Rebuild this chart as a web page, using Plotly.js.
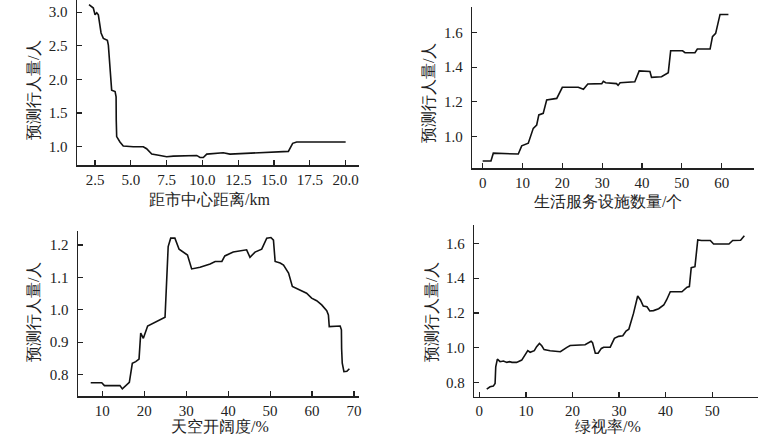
<!DOCTYPE html>
<html>
<head>
<meta charset="utf-8">
<script src="https://cdn.plot.ly/plotly-3.0.1.min.js"></script>
<style>html,body{margin:0;padding:0;background:#fff;}#chart{width:770px;height:440px;}</style>
</head>
<body>
<div id="chart"></div>
<script>
// Panel 1: distance to city centre
var distX = [2.08, 2.38, 2.5, 2.62, 2.73, 2.92, 3.08, 3.36, 3.43, 3.66, 3.9, 3.97, 3.98, 4.01, 4.24, 4.47, 5.17, 5.87, 6.1, 6.46, 7.04, 7.5, 7.97, 9.6, 9.83, 10.06, 10.3, 11.45, 11.92, 12.85, 16.0, 16.3, 16.58, 20.0];
var distY = [3.11, 3.06, 2.96, 2.99, 2.96, 2.69, 2.61, 2.58, 2.51, 1.84, 1.82, 1.74, 1.4, 1.15, 1.07, 1.01, 1.0, 1.0, 0.97, 0.89, 0.87, 0.85, 0.86, 0.87, 0.84, 0.84, 0.89, 0.91, 0.89, 0.9, 0.93, 1.05, 1.07, 1.07];

// Panel 2: number of service facilities
var facX = [0, 2.08, 2.67, 8.94, 9.8, 11.45, 12.7, 13.56, 14.1, 15.2, 16.07, 18.6, 20, 24, 25.3, 26.4, 29.9, 30.3, 30.9, 33.6, 34, 34.5, 38.2, 39.3, 42, 42.4, 44.9, 46.2, 46.6, 47.2, 50.2, 50.8, 53.3, 53.9, 57.1, 57.7, 58.5, 59.6, 61.7];
var facY = [0.86, 0.86, 0.905, 0.9, 0.947, 0.962, 1.048, 1.067, 1.125, 1.134, 1.211, 1.22, 1.284, 1.284, 1.272, 1.303, 1.305, 1.318, 1.31, 1.305, 1.295, 1.31, 1.316, 1.378, 1.375, 1.341, 1.345, 1.364, 1.368, 1.494, 1.494, 1.483, 1.483, 1.504, 1.504, 1.575, 1.594, 1.703, 1.703];

// Panel 3: sky openness
var skyX = [7.23, 9.86, 10.5, 14.2, 14.77, 15.4, 16.44, 17.15, 17.96, 18.75, 19.15, 19.78, 20.6, 20.8, 24.95, 25.7, 26.3, 27.3, 28.3, 29.7, 30.3, 31.3, 33.3, 35.7, 36.9, 38.5, 39.2, 41.2, 44.4, 45.2, 46.4, 48, 49.2, 50.2, 50.8, 51.2, 52.4, 53.2, 54.4, 55.3, 57.1, 58.7, 59.9, 61.1, 62.3, 63.5, 63.9, 64.1, 66.7, 67.0, 67.05, 67.2, 67.6, 68.3, 68.9];
var skyY = [0.775, 0.775, 0.766, 0.766, 0.756, 0.763, 0.776, 0.835, 0.84, 0.848, 0.928, 0.912, 0.938, 0.95, 0.977, 1.195, 1.221, 1.221, 1.187, 1.176, 1.169, 1.126, 1.131, 1.141, 1.149, 1.149, 1.166, 1.178, 1.185, 1.162, 1.178, 1.187, 1.221, 1.223, 1.215, 1.149, 1.144, 1.138, 1.113, 1.072, 1.061, 1.051, 1.036, 1.028, 1.015, 0.997, 0.984, 0.948, 0.95, 0.938, 0.88, 0.835, 0.809, 0.81, 0.818];

// Panel 4: green view index
var greenX = [1.59, 2.3, 3.0, 3.38, 3.52, 3.87, 4.45, 5.17, 5.9, 6.5, 7.0, 8.0, 9.1, 9.83, 10.4, 10.9, 11.8, 12.3, 12.9, 13.4, 13.9, 15.2, 17.4, 18.8, 19.5, 22.7, 24.0, 24.3, 24.9, 25.5, 26.2, 26.7, 28.1, 29.0, 29.9, 30.8, 31.5, 32.1, 33.1, 34.0, 34.6, 35.2, 36.0, 36.6, 37.4, 38.5, 39.6, 40.2, 41.0, 43.5, 44.6, 45.1, 45.5, 46.3, 46.9, 47.7, 49.6, 50.3, 53.6, 54.4, 56.1, 56.9];
var greenY = [0.764, 0.777, 0.781, 0.796, 0.892, 0.936, 0.921, 0.925, 0.917, 0.921, 0.917, 0.917, 0.93, 0.959, 0.984, 0.975, 0.984, 1.007, 1.026, 1.012, 0.99, 0.984, 0.978, 1.003, 1.014, 1.018, 1.038, 1.03, 0.969, 0.969, 0.997, 1.004, 1.004, 1.055, 1.066, 1.07, 1.097, 1.107, 1.198, 1.298, 1.275, 1.24, 1.236, 1.212, 1.214, 1.225, 1.246, 1.275, 1.322, 1.322, 1.348, 1.352, 1.46, 1.466, 1.619, 1.616, 1.616, 1.596, 1.596, 1.616, 1.618, 1.644];

var xTitles = ["距市中心距离/km", "生活服务设施数量/个", "天空开阔度/%", "绿视率/%"];
var yTitle = "预测行人量/人";

var serif = "Liberation Serif";
var lineStyle = {color: "#111", width: 1.6};

var traces = [
  {x: distX, y: distY, xaxis: "x", yaxis: "y"},
  {x: facX, y: facY, xaxis: "x2", yaxis: "y2"},
  {x: skyX, y: skyY, xaxis: "x3", yaxis: "y3"},
  {x: greenX, y: greenY, xaxis: "x4", yaxis: "y4"}
].map(function(t){ t.type = "scatter"; t.mode = "lines"; t.line = lineStyle; t.hoverinfo = "skip"; return t; });

function ax(extra) {
  var base = {
    showline: true, linecolor: "#222", linewidth: 1.5, mirror: false,
    showgrid: false, zeroline: false,
    ticks: "inside", ticklen: 5, tickwidth: 1.2, tickcolor: "#222",
    tickfont: {family: serif, size: 15, color: "#222"},
    fixedrange: true
  };
  for (var k in extra) base[k] = extra[k];
  return base;
}

var layout = {
  width: 770, height: 440,
  margin: {l: 0, r: 0, t: 0, b: 0},
  paper_bgcolor: "#fff", plot_bgcolor: "#fff",
  showlegend: false,
  font: {family: serif},
  xaxis: ax({domain: [0.1, 0.4662], range: [1.24, 20.93], dtick: 2.5, tick0: 0, tickformat: ".1f", anchor: "y"}),
  yaxis: ax({domain: [0.625, 1.0], range: [0.728, 3.18], dtick: 0.5, tick0: 0, tickformat: ".1f", anchor: "x", ticklabelstandoff: 5}),
  xaxis2: ax({domain: [0.6134, 0.9796], range: [-2.6, 68.2], dtick: 10, tick0: 0, anchor: "y2"}),
  yaxis2: ax({domain: [0.6175, 0.9834], range: [0.818, 1.744], dtick: 0.2, tick0: 0, tickformat: ".1f", anchor: "x2", ticklabelstandoff: 5}),
  xaxis3: ax({domain: [0.1013, 0.4666], range: [4.2, 71.26], dtick: 10, tick0: 0, anchor: "y3"}),
  yaxis3: ax({domain: [0.1, 0.4757], range: [0.734, 1.244], dtick: 0.1, tick0: 0, tickformat: ".1f", anchor: "x3", ticklabelstandoff: 5}),
  xaxis4: ax({domain: [0.616, 0.9848], range: [-1.08, 59.9], dtick: 10, tick0: 0, anchor: "y4"}),
  yaxis4: ax({domain: [0.0984, 0.4886], range: [0.72, 1.705], dtick: 0.2, tick0: 0, tickformat: ".1f", anchor: "x4", ticklabelstandoff: 5}),
  annotations: []
};

var xTitlePos = [[210, 199], [608, 201], [220, 426], [608, 426]];
var yTitlePos = [[33, 90], [428, 93], [33, 312], [431, 312]];
var titleFont = {family: serif, size: 16, color: "#222"};
for (var i = 0; i < 4; i++) {
  layout.annotations.push({
    text: xTitles[i], xref: "paper", yref: "paper",
    x: xTitlePos[i][0] / 770, y: 1 - xTitlePos[i][1] / 440,
    xanchor: "center", yanchor: "middle", showarrow: false, font: titleFont
  });
  layout.annotations.push({
    text: yTitle, xref: "paper", yref: "paper",
    x: yTitlePos[i][0] / 770, y: 1 - yTitlePos[i][1] / 440,
    xanchor: "center", yanchor: "middle", showarrow: false, textangle: -90, font: titleFont
  });
}

Plotly.newPlot("chart", traces, layout, {staticPlot: true, displayModeBar: false});
</script>
</body>
</html>
